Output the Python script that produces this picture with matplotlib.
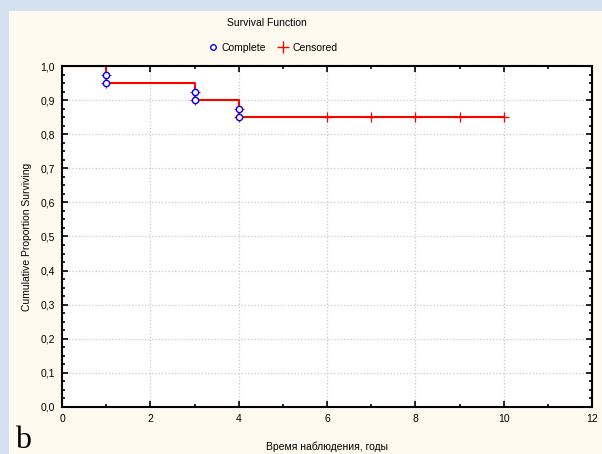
import matplotlib
matplotlib.use("Agg")
import matplotlib.pyplot as plt
from matplotlib.patches import Rectangle
from matplotlib.ticker import MultipleLocator, FuncFormatter
from matplotlib.lines import Line2D

# data
complete_t = [1, 1, 3, 3, 4, 4]
complete_s = [0.975, 0.95, 0.925, 0.90, 0.875, 0.85]
censored_t = [6, 7, 8, 9, 10]
censored_s = [0.85, 0.85, 0.85, 0.85, 0.85]
step_t = [0, 1, 3, 4, 10]
step_s = [1.0, 0.95, 0.90, 0.85, 0.85]

plt.rcParams["font.family"] = ["Liberation Sans", "DejaVu Sans"]

fig = plt.figure(figsize=(6.02, 4.54), dpi=100)
fig.patch.set_facecolor("#d5e1f0")
fig.patches.append(Rectangle((9 / 602, 0), 1, 1 - 11 / 454, transform=fig.transFigure,
                             facecolor="#fffaf0", edgecolor="none", zorder=-10))

ax = fig.add_axes([62 / 602, 1 - 407 / 454, (592 - 62) / 602, (407 - 66) / 454])
ax.set_facecolor("white")

ax.step(step_t, step_s, where="post", color="red", lw=1.5, zorder=2)
ax.plot(complete_t, complete_s, ls="none", marker="+", ms=7, mew=0.9, color="red", zorder=3)
ax.plot(complete_t, complete_s, ls="none", marker="o", ms=4.5, mew=1.0,
        mfc="white", mec="blue", zorder=4)
ax.plot(censored_t, censored_s, ls="none", marker="+", ms=7, mew=0.9, color="red", zorder=4)

ax.set_xlim(0, 12)
ax.set_ylim(0, 1.0)
ax.xaxis.set_major_locator(MultipleLocator(2))
ax.xaxis.set_minor_locator(MultipleLocator(1))
ax.yaxis.set_major_locator(MultipleLocator(0.1))
ax.yaxis.set_minor_locator(MultipleLocator(0.025))
ax.yaxis.set_major_formatter(FuncFormatter(lambda v, p: f"{v:.1f}".replace(".", ",")))
ax.tick_params(which="both", direction="in", top=True, right=True, labelsize=7.5, width=1.2)
ax.tick_params(which="major", length=4, pad=5)
ax.tick_params(which="minor", length=2.5)
ax.grid(True, which="major", color="#c8c8c8", ls=":", lw=0.9)
for sp in ax.spines.values():
    sp.set_linewidth(1.5)
    sp.set_zorder(2.5)

ax.set_xlabel("Время наблюдения, годы", fontsize=7.5, labelpad=13)
ax.set_ylabel("Cumulative Proportion Surviving", fontsize=7.5, labelpad=6)

fig.text(267 / 602, 1 - 23 / 454, "Survival Function", ha="center", va="center", fontsize=7.5)
handles = [
    Line2D([], [], ls="none", marker="o", ms=4, mew=1.0, mfc="white", mec="blue"),
    Line2D([], [], ls="none", marker="+", ms=8, mew=1.0, color="red"),
]
fig.legend(handles, ["Complete", "Censored"], loc="center", bbox_to_anchor=(272 / 602, 1 - 48 / 454),
           ncol=2, frameon=False, fontsize=7.5, handletextpad=0.3, columnspacing=1.0,
           handlelength=1.2)

fig.text(15 / 602, 1 - 441 / 454, "b", family=["Liberation Serif", "DejaVu Serif"],
         fontsize=23, ha="left", va="center")

fig.savefig("out.png", dpi=100, facecolor=fig.get_facecolor())
